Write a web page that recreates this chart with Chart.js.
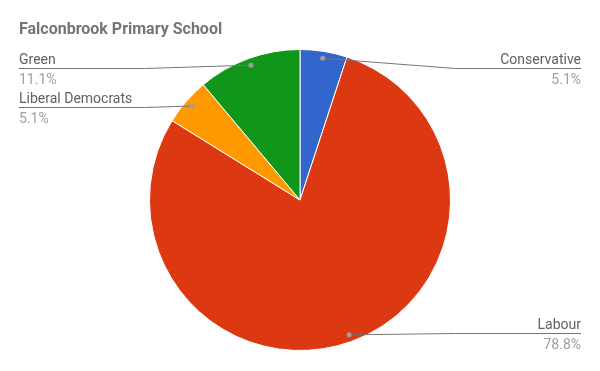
<!DOCTYPE html>
<html>
<head>
<meta charset="utf-8">
<script src="https://cdn.jsdelivr.net/npm/chart.js@4"></script>
<style>
  html, body { margin: 0; padding: 0; background: #fff; }
  #wrap { width: 600px; height: 371px; }
</style>
</head>
<body>
<div id="wrap"><canvas id="school-pie"></canvas></div>
<script>
const parties = ["Conservative", "Labour", "Liberal Democrats", "Green"];
const votes = [5, 78, 5, 11];
const partyColours = ["#3366cc", "#dc3912", "#ff9900", "#109618"];
const chartTitle = "Falconbrook Primary School";

// draws title + google-style leader labels
const leaderLabels = {
    id: "leaderLabels",
    afterDraw(chart) {
        const ctx = chart.ctx;
        const arcs = chart.getDatasetMeta(0).data;
        const total = votes.reduce((a, b) => a + b, 0);

        ctx.save();
        ctx.font = "bold 16px Roboto";
        ctx.fillStyle = "#757575";
        ctx.textAlign = "left";
        ctx.textBaseline = "alphabetic";
        ctx.fillText(chartTitle, 19, 34);

        const items = arcs.map((arc, i) => {
            const mid = (arc.startAngle + arc.endAngle) / 2;
            const r = arc.outerRadius - 7;
            return {
                i: i,
                cx: arc.x,
                R: arc.outerRadius,
                dx: arc.x + Math.cos(mid) * r,
                dy: arc.y + Math.sin(mid) * r,
                right: Math.cos(mid) >= 0
            };
        });

        [true, false].forEach(side => {
            const list = items.filter(it => it.right === side).sort((a, b) => a.dy - b.dy);
            let prev = -Infinity;
            list.forEach(it => {
                let ly = Math.min(Math.max(it.dy, 68), 333);
                ly = Math.max(ly, prev + 39);
                prev = ly;
                it.ly = Math.round(ly) + 0.5;
            });
        });

        items.forEach(it => {
            const bendX = it.right ? it.cx + it.R + 5 : it.cx - it.R - 5;
            const endX = it.right ? 581 : 19;
            ctx.strokeStyle = "#757575";
            ctx.lineWidth = 1;
            ctx.beginPath();
            ctx.moveTo(it.dx, it.dy);
            if (it.right ? bendX > it.dx : bendX < it.dx) ctx.lineTo(bendX, it.ly);
            ctx.lineTo(endX, it.ly);
            ctx.stroke();

            ctx.fillStyle = "#9e9e9e";
            ctx.beginPath();
            ctx.arc(it.dx, it.dy, 2.5, 0, Math.PI * 2);
            ctx.fill();

            ctx.textAlign = it.right ? "right" : "left";
            ctx.font = "14px Roboto";
            ctx.fillStyle = "#616161";
            ctx.fillText(parties[it.i], endX, it.ly - 5);
            ctx.fillStyle = "#9e9e9e";
            ctx.fillText((votes[it.i] / total * 100).toFixed(1) + "%", endX, it.ly + 15);
        });
        ctx.restore();
    }
};

new Chart("school-pie", {
    type: "pie",
    data: {
        labels: parties,
        datasets: [{
            data: votes,
            backgroundColor: partyColours,
            borderColor: "#ffffff",
            borderWidth: 1
        }]
    },
    options: {
        responsive: true,
        maintainAspectRatio: false,
        animation: false,
        layout: { padding: { top: 49, bottom: 20, left: 0, right: 0 } },
        plugins: {
            legend: { display: false },
            tooltip: { enabled: false }
        }
    },
    plugins: [leaderLabels]
});
</script>
</body>
</html>
